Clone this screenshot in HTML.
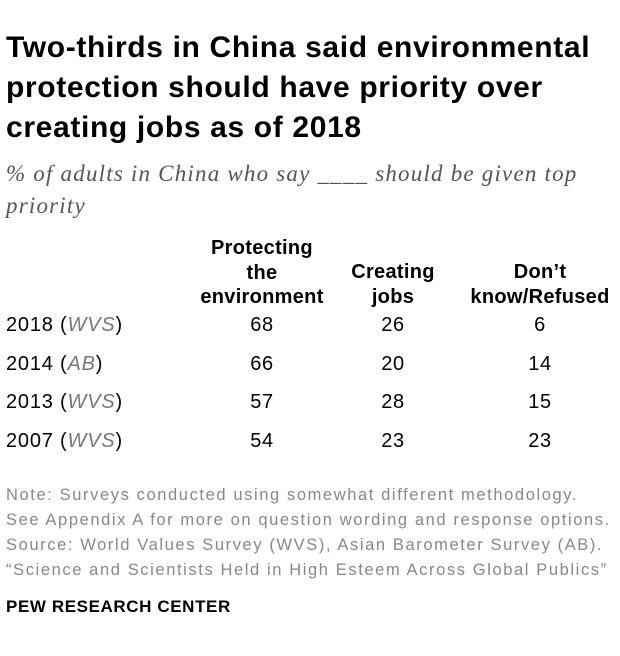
<!DOCTYPE html>
<html><head><meta charset="utf-8">
<style>
body{margin:0;width:620px;height:656px;background:#fff;font-family:"Liberation Sans",sans-serif;position:relative;overflow:hidden;color:#000}
.a{position:absolute;white-space:nowrap}
.title{left:6px;top:28px;font-size:30px;font-weight:bold;line-height:40px;letter-spacing:0.65px}
.sub{left:6px;top:158px;font-family:"Liberation Serif",serif;font-style:italic;font-size:23px;line-height:32px;color:#555;letter-spacing:1.2px}
.hd{font-weight:bold;font-size:20px;line-height:24.5px;text-align:center;transform:translateX(-50%);letter-spacing:0.3px}
.lbl{left:6px;font-size:20px;letter-spacing:0.8px}
.lbl i{color:#777}
.v{font-size:20px;transform:translateX(-50%);letter-spacing:0.6px}
.note{left:6px;top:483px;font-size:16.5px;line-height:25px;color:#888;letter-spacing:1.6px}
.pew{left:6px;top:597px;font-size:17px;font-weight:bold;letter-spacing:0.6px}
</style></head><body>
<div class="a title">Two-thirds in China said environmental<br>protection should have priority over<br>creating jobs as of 2018</div>
<div class="a sub">% of adults in China who say ____ should be given top<br>priority</div>
<div class="a hd" style="left:262px;top:236px">Protecting<br>the<br>environment</div>
<div class="a hd" style="left:393px;top:260px">Creating<br>jobs</div>
<div class="a hd" style="left:540px;top:260px">Don’t<br>know/Refused</div>
<div id="rows"></div>
<div class="a note">Note: Surveys conducted using somewhat different methodology.<br>See Appendix A for more on question wording and response options.<br>Source: World Values Survey (WVS), Asian Barometer Survey (AB).<br>“Science and Scientists Held in High Esteem Across Global Publics”</div>
<div class="a pew">PEW RESEARCH CENTER</div>
<script>
const years=["2018","2014","2013","2007"];
const sources=["WVS","AB","WVS","WVS"];
const environment=[68,66,57,54];
const jobs=[26,20,28,23];
const dontKnow=[6,14,15,23];
const rowsEl=document.getElementById('rows');
const colX=[262,393,540];
years.forEach((y,i)=>{
  const top=314+i*38.5;
  const l=document.createElement('div');
  l.className='a lbl';l.style.top=top+'px';
  l.innerHTML=y+' (<i>'+sources[i]+'</i>)';
  
  
  rowsEl.appendChild(l);
  [environment[i],jobs[i],dontKnow[i]].forEach((v,j)=>{
    const c=document.createElement('div');
    c.className='a v';c.style.top=top+'px';c.style.left=colX[j]+'px';
    c.textContent=v;
    
    
    rowsEl.appendChild(c);
  });
});
</script>
</body></html>
